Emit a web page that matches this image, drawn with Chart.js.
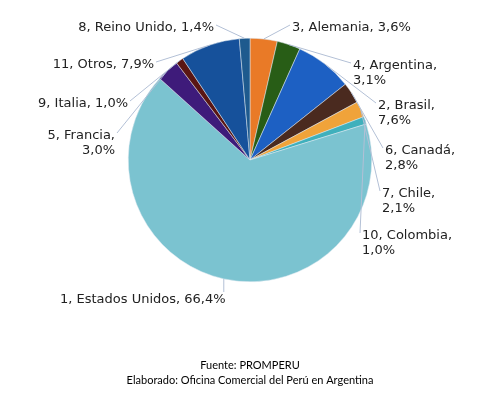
<!DOCTYPE html>
<html>
<head>
  <title>Destinos de exportación</title>
  <style>
    body { margin: 0; background: #ffffff; }
    #wrap { position: relative; width: 489px; height: 394px; }
  </style>
  <script src="https://cdn.jsdelivr.net/npm/chart.js"></script>
</head>
<body>
  <div id="wrap"><canvas id="pieChart" width="489" height="394"></canvas></div>
  <script>
    const paises = ['Alemania', 'Argentina', 'Brasil', 'Canadá', 'Chile', 'Colombia',
      'Estados Unidos', 'Francia', 'Italia', 'Otros', 'Reino Unido'];
    const rangos = [3, 4, 2, 6, 7, 10, 1, 5, 9, 11, 8];
    const porcentajes = [3.6, 3.1, 7.6, 2.8, 2.1, 1.0, 66.4, 3.0, 1.0, 7.9, 1.4];
    const colores = ['#e97a27', '#285d16', '#1d60c3', '#4a2a1f', '#f0a33a', '#3fb0bc',
      '#7bc3d0', '#3e1b7a', '#5a1613', '#16519b', '#1e5a8e'];
    const fuente = ['Fuente: PROMPERU', 'Elaborado: Oficina Comercial del Perú en Argentina'];

    // label layout: offset of the text anchor from the pie centre, alignment, line break
    const labelLayout = [
      { dx: 42, dy: -132, align: 'left', split: false },
      { dx: 103, dy: -94, align: 'left', split: true },
      { dx: 128, dy: -54, align: 'left', split: true },
      { dx: 135, dy: -9, align: 'left', split: true },
      { dx: 132, dy: 34, align: 'left', split: true },
      { dx: 112, dy: 76, align: 'left', split: true },
      { dx: -190, dy: 140, align: 'left', split: false },
      { dx: -135, dy: -24, align: 'right', split: true },
      { dx: -122, dy: -56, align: 'right', split: false },
      { dx: -96, dy: -95, align: 'right', split: false },
      { dx: -36, dy: -132, align: 'right', split: false }
    ];

    const fmt = v => v.toFixed(1).replace('.', ',') + '%';

    const labelsPlugin = {
      id: 'pieLabels',
      afterDraw(chart) {
        const ctx = chart.ctx;
        const arcs = chart.getDatasetMeta(0).data;
        ctx.save();
        ctx.font = '13px "DejaVu Sans"';
        ctx.textBaseline = 'middle';
        arcs.forEach((arc, i) => {
          const lay = labelLayout[i];
          const mid = (arc.startAngle + arc.endAngle) / 2;
          const ex = arc.x + Math.cos(mid) * arc.outerRadius;
          const ey = arc.y + Math.sin(mid) * arc.outerRadius;
          const tx = arc.x + lay.dx;
          const ty = arc.y + lay.dy;
          const first = rangos[i] + ', ' + paises[i] + ',';
          const second = fmt(porcentajes[i]);
          const lines = lay.split ? [first, second] : [first + ' ' + second];
          // leader line end point near the text
          let lx, ly;
          if (i === 6) {
            lx = ex; ly = ty - 8;
          } else if (lay.align === 'left') {
            lx = tx - 2; ly = ty - 3;
          } else {
            lx = tx + 2; ly = ty - 3;
          }
          ctx.strokeStyle = '#b3c0d6';
          ctx.lineWidth = 1;
          ctx.beginPath();
          ctx.moveTo(ex, ey);
          ctx.lineTo(lx, ly);
          ctx.stroke();
          ctx.fillStyle = '#222222';
          lines.forEach((t, k) => {
            ctx.textAlign = lay.align;
            ctx.fillText(t, tx, ty + k * 15);
          });
        });
        ctx.font = '11px Lato';
        ctx.textAlign = 'center';
        ctx.fillStyle = '#000000';
        ctx.fillText(fuente[0], 250, 365);
        ctx.fillText(fuente[1], 250, 380);
        ctx.restore();
      }
    };

    new Chart(document.getElementById('pieChart'), {
      type: 'pie',
      data: {
        labels: paises,
        datasets: [{
          data: porcentajes,
          backgroundColor: colores,
          borderWidth: 0.5,
          borderColor: '#dfe8f0'
        }]
      },
      options: {
        responsive: false,
        animation: false,
        layout: { padding: { left: 128, right: 117, top: 38, bottom: 112 } },
        plugins: {
          legend: { display: false },
          tooltip: { enabled: false }
        }
      },
      plugins: [labelsPlugin]
    });
  </script>
</body>
</html>
